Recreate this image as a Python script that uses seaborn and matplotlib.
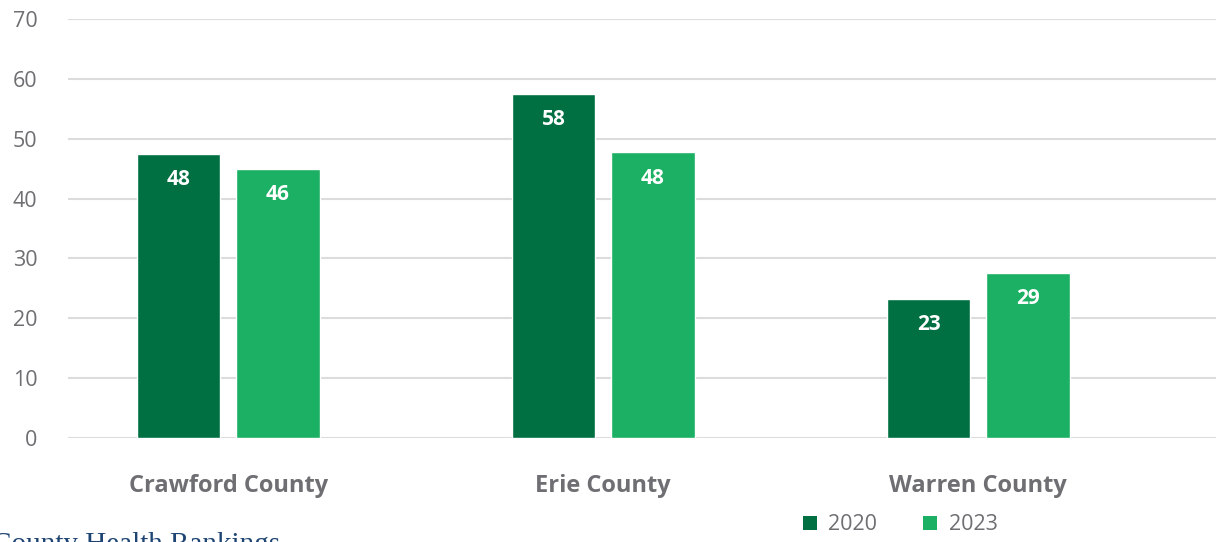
import matplotlib
matplotlib.use("Agg")
import matplotlib.pyplot as plt
import seaborn as sns
import pandas as pd
from matplotlib.patches import Patch

counties = ["Crawford County", "Erie County", "Warren County"]
years = ["2020", "2023"]
values_2020 = [47.5, 57.5, 23.3]
values_2023 = [45.0, 47.7, 27.6]
labels_2020 = ["48", "58", "23"]
labels_2023 = ["46", "48", "29"]
yticks = [0, 10, 20, 30, 40, 50, 60, 70]
source_text = "County Health Rankings"

colors = {"2020": "#006f41", "2023": "#1bb063"}
grey = "#6e6e73"

df = pd.DataFrame({
    "county": counties * 2,
    "year": ["2020"] * 3 + ["2023"] * 3,
    "value": values_2020 + values_2023,
    "label": labels_2020 + labels_2023,
})

sns.set_theme(style="white")
plt.rcParams["font.family"] = ["Open Sans", "DejaVu Sans"]

W, H = 1216, 542
fig = plt.figure(figsize=(W / 100, H / 100), dpi=100)
ax = fig.add_axes([68 / W, 1 - 438 / H, (W - 68) / W, (438 - 19) / H])

sns.barplot(data=df, x="county", y="value", hue="year", order=counties,
            hue_order=years, palette=colors, width=0.53, gap=0.156,
            saturation=1, ax=ax, legend=False, zorder=3)

ax.set_ylim(0, 70)
ax.set_xlim(-0.427, 2.634)
ax.set_yticks(yticks)
ax.set_yticklabels([str(t) for t in yticks])
ax.yaxis.grid(True, color="#dcdcdc", linewidth=1.5, zorder=0)
ax.set_axisbelow(True)
for s in ax.spines.values():
    s.set_visible(False)
ax.set_xlabel("")
ax.set_ylabel("")
ax.tick_params(axis="y", length=0, pad=22, labelsize=15.5, labelcolor=grey)
ax.tick_params(axis="x", length=0, pad=26, labelsize=17, labelcolor=grey)
for lab in ax.get_xticklabels():
    lab.set_fontweight("bold")

# data labels
for container, labs in zip(ax.containers, [labels_2020, labels_2023]):
    for bar, lab in zip(container, labs):
        h = bar.get_height()
        ax.annotate(lab, (bar.get_x() + bar.get_width() / 2, h),
                    xytext=(0, -18.5), textcoords="offset points",
                    ha="center", va="center", color="white",
                    fontsize=15, fontweight="bold")

handles = [Patch(facecolor=colors[y], edgecolor="none") for y in years]
fig.legend(handles, years, loc="center", bbox_to_anchor=(900 / W, 1 - 525 / H),
           ncol=2, frameon=False, fontsize=15.5, labelcolor=grey,
           handlelength=0.65, handleheight=0.65, handletextpad=0.55,
           columnspacing=2.1, borderpad=0)

fig.text(-8 / W, 1 - 552 / H, source_text, family="Liberation Serif",
         fontsize=21, color="#1d4473", ha="left", va="baseline")

fig.savefig("out.png", dpi=100)
